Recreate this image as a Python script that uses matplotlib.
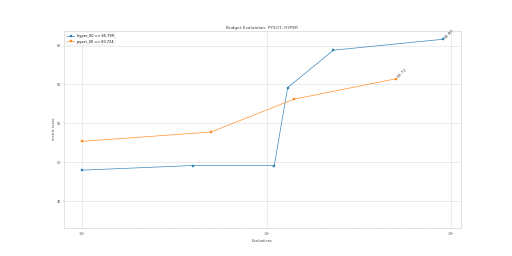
import matplotlib.pyplot as plt

# evaluations (x) and best metric score so far (y) for each optimiser
hyper_evals = [1, 4, 11, 13, 23, 90]
hyper_scores = [49.0, 49.6, 49.6, 59.6, 64.4, 65.799]
pysot_evals = [1, 5, 14, 50]
pysot_scores = [52.7, 53.9, 58.1, 60.724]

fig, ax = plt.subplots(figsize=(20, 10), dpi=25.6)

ax.plot(hyper_evals, hyper_scores, marker="s", markersize=7, linewidth=2, alpha=0.85,
        color="#1f77b4", label="hyper_00 => %.3f" % hyper_scores[-1])
ax.plot(pysot_evals, pysot_scores, marker="s", markersize=7, linewidth=2, alpha=0.85,
        color="#ff7f0e", label="pysot_00 => %.3f" % pysot_scores[-1])

# label the final value of each run
for xs, ys in [(hyper_evals, hyper_scores), (pysot_evals, pysot_scores)]:
    ax.annotate("%.2f" % ys[-1], xy=(xs[-1], ys[-1]), xytext=(2, 2),
                textcoords="offset points", rotation=45, color="#555555", fontsize=12)

ax.set_xscale("log")
ax.set_ylim(41.6, 66.9)
ax.set_yticks([45, 50, 55, 60, 65])

ax.set_title("Budget Evaluation: PYSOT, HYPER", color="#444444", fontsize=12)
ax.set_xlabel("Evaluations", color="#444444")
ax.set_ylabel("metric score", color="#444444")

ax.grid(True, color="#dddddd", linewidth=1.5)
for s in ax.spines.values():
    s.set_color("#cccccc")
    s.set_linewidth(1.5)
ax.tick_params(which="both", colors="#999999", labelcolor="#555555")
ax.legend(loc="upper left")

fig.savefig("out.png", dpi=25.6)
